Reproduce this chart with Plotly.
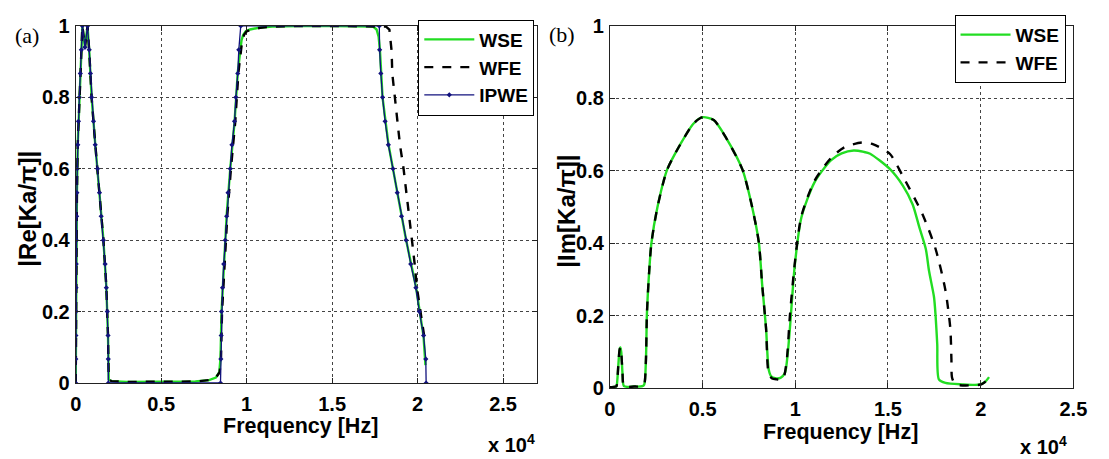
import plotly.graph_objects as go

W, H = 1109, 459

# ---------------- data: panel (a)  |Re[Ka/pi]| ----------------
wse_re_f = [0, 10, 20, 40, 70, 120, 210, 330, 390, 540, 690, 790, 930, 1140, 1390, 1620, 1790, 1890,
            1930, 2100, 3000, 5000, 7000, 7800, 8200, 8400, 8470, 8530, 8660, 8830, 9040, 9290, 9480, 9600,
            9700, 9800, 9950, 10200, 10700, 11500, 13000, 15000, 17000, 17400, 17600, 17720, 17800,
            17950, 18290, 18810, 19330, 19900, 20350, 20460]
wse_re_y = [0, .13, .27, .4, .53, .67, .8, .93, 1.0, .94, 1.0, .93, .8, .67, .53, .4, .27, .13,
            .01, .005, .003, .003, .004, .008, .015, .03, .07, .2, .33, .47, .6, .73, .87, .93,
            .96, .975, .985, .99, .995, .998, 1.0, 1.0, 1.0, .998, .99, .97, .93,
            .8, .67, .53, .4, .27, .13, .05]

wfe_re_f = [0, 10, 20, 40, 70, 120, 210, 330, 390, 540, 690, 790, 930, 1140, 1390, 1620, 1790, 1890,
            1930, 2100, 3000, 5000, 7000, 7800, 8200, 8420, 8500, 8560, 8700, 8870, 9080, 9330, 9520, 9640,
            9740, 9850, 10000, 10300, 10800, 11500, 13000, 15000, 17000, 17800, 18150, 18350,
            18430, 18480, 18520, 18660, 18810, 18970, 19180, 19330, 19480, 19670, 19830, 19960, 20170, 20380]
wfe_re_y = [0, .13, .27, .4, .53, .67, .8, .93, 1.0, .94, 1.0, .93, .8, .67, .53, .4, .27, .13,
            .01, .005, .003, .003, .004, .008, .015, .03, .07, .2, .33, .47, .6, .73, .87, .93,
            .96, .975, .985, .99, .995, .998, 1.0, 1.0, 1.0, 1.0, .998, .99,
            .96, .93, .867, .8, .733, .667, .6, .533, .467, .4, .333, .267, .2, .133]

ipwe_f = [0, 5, 10, 15, 20, 30, 40, 55, 70, 90, 120, 160, 210, 270, 330, 390,
          540, 690,
          790, 860, 930, 1040, 1140, 1280, 1390, 1490, 1620, 1720, 1790, 1850, 1890, 1905, 1910,
          8470, 8490, 8510, 8530, 8590, 8660, 8750, 8830, 8910, 9040, 9140, 9290, 9370, 9480, 9540, 9655,
          17760, 17780, 17850, 17950, 18100, 18290, 18560, 18810, 19060, 19330, 19600, 19900, 20100,
          20350, 20480, 20500]
ipwe_y = [0, .067, .133, .2, .267, .333, .4, .467, .533, .6, .667, .733, .8, .867, .933, 1.0,
          .94, 1.0,
          .933, .867, .8, .733, .667, .6, .533, .467, .4, .333, .267, .2, .133, .067, 0,
          0, .067, .133, .2, .267, .333, .4, .467, .533, .6, .667, .733, .8, .867, .933, 1.0,
          1.0, .933, .867, .8, .733, .667, .6, .533, .467, .4, .333, .267, .2,
          .133, .067, 0]

# ---------------- data: panel (b)  |Im[Ka/pi]| ----------------
wse_im_f = [0, 300, 354, 450, 520, 565, 610, 680, 760, 1300, 1750, 1854, 1943, 1996, 2119, 2240, 2558,
            3088, 3797, 4502, 5000, 5600, 6266, 7150, 7680, 8033, 8210, 8422, 8565, 8700, 8917, 9200,
            9444, 9600, 9709, 9974, 10328, 11034, 11917, 12500, 13151, 13700, 14036, 15095, 15800,
            16330, 16684, 17040, 17214, 17479, 17567, 17656, 17744, 18097, 19000, 19862, 20200, 20450]
wse_im_y = [.002, .004, .005, .06, .105, .112, .1, .04, .005, .004, .005, .01, .077, .204, .323, .401, .498,
            .603, .673, .73, .748, .74, .691, .603, .498, .402, .287, .165, .051, .032, .027, .028,
            .042, .1, .165, .34, .471, .568, .629, .648, .656, .652, .647, .605, .559,
            .507, .445, .384, .323, .252, .2, .121, .024, .014, .01, .009, .015, .03]

wfe_im_f = [0, 300, 354, 450, 520, 565, 610, 680, 760, 1300, 1750, 1854, 1943, 1996, 2119, 2240, 2558,
            3088, 3797, 4502, 5000, 5600, 6266, 7150, 7680, 8033, 8210, 8422, 8565, 8750, 9000, 9326,
            9532, 9709, 9974, 10328, 11034, 11917, 12620, 13596, 14212, 15095, 15800, 16860, 17567,
            18097, 18361, 18420, 18450, 18600, 18805, 20040, 20300]
wfe_im_y = [.002, .004, .005, .06, .105, .112, .1, .04, .005, .004, .005, .01, .077, .204, .323, .401, .498,
            .603, .673, .73, .748, .74, .691, .603, .498, .402, .287, .165, .04, .026, .024, .024,
            .074, .2, .345, .475, .572, .635, .664, .678, .673, .647, .585, .48, .384,
            .27, .165, .08, .03, .012, .008, .01, .02]

x_tickvals_a = [0, 5000, 10000, 15000, 20000, 25000]
x_ticktext_a = ["0", "0.5", "1", "1.5", "2", "2.5"]
y_tickvals = [0, 0.2, 0.4, 0.6, 0.8, 1.0]
y_ticktext = ["0", "0.2", "0.4", "0.6", "0.8", "1"]

GREEN = "#22dd22"
NAVY = "#12127e"
SANS = "Liberation Sans"

fig = go.Figure()
fig.add_trace(go.Scatter(x=wse_re_f, y=wse_re_y, mode="lines", name="WSE",
                         line=dict(color=GREEN, width=2.4), xaxis="x", yaxis="y", legend="legend"))
fig.add_trace(go.Scatter(x=wfe_re_f, y=wfe_re_y, mode="lines", name="WFE",
                         line=dict(color="black", width=2.4, dash="dash"), xaxis="x", yaxis="y", legend="legend"))
fig.add_trace(go.Scatter(x=ipwe_f, y=ipwe_y, mode="lines+markers", name="IPWE",
                         line=dict(color=NAVY, width=1.3), marker=dict(color=NAVY, size=4, symbol="diamond"),
                         xaxis="x", yaxis="y", legend="legend"))
fig.add_trace(go.Scatter(x=wse_im_f, y=wse_im_y, mode="lines", name="WSE",
                         line=dict(color=GREEN, width=2.4, shape="spline", smoothing=0.7),
                         xaxis="x2", yaxis="y2", legend="legend2"))
fig.add_trace(go.Scatter(x=wfe_im_f, y=wfe_im_y, mode="lines", name="WFE",
                         line=dict(color="black", width=2.4, dash="dash", shape="spline", smoothing=0.7),
                         xaxis="x2", yaxis="y2", legend="legend2"))

tickfont = dict(family=SANS, size=20, color="black", weight="bold")
common = dict(showline=True, mirror="ticks", linecolor="#222", linewidth=1, ticks="inside", ticklen=5,
              tickcolor="#222", showgrid=True, griddash="dot", gridcolor="#444", gridwidth=1,
              zeroline=False, tickfont=tickfont)

leg_font = dict(family=SANS, size=19, color="black", weight="bold")
fig.update_layout(
    width=W, height=H, margin=dict(l=0, r=0, t=0, b=0),
    paper_bgcolor="white", plot_bgcolor="white",
    xaxis=dict(domain=[71 / W, 541 / W], range=[0, 27000], tickvals=x_tickvals_a, ticktext=x_ticktext_a,
               anchor="y", ticklabelstandoff=3, **common),
    yaxis=dict(domain=[1 - 390.7 / H, 1 - 15.7 / H], range=[0, 1], tickvals=y_tickvals, ticktext=y_ticktext,
               anchor="x", ticklabelstandoff=1, **common),
    xaxis2=dict(domain=[615 / W, 1087 / W], range=[0, 25000], tickvals=x_tickvals_a, ticktext=x_ticktext_a,
                anchor="y2", ticklabelstandoff=3, **common),
    yaxis2=dict(domain=[1 - 396 / H, 1 - 15.7 / H], range=[0, 1], tickvals=y_tickvals, ticktext=y_ticktext,
                anchor="x2", ticklabelstandoff=1, **common),
    legend=dict(x=538 / W, y=1 - 9 / H, xanchor="right", yanchor="top", bgcolor="white",
                bordercolor="black", borderwidth=1, font=leg_font, tracegroupgap=0, itemwidth=50),
    legend2=dict(x=1079 / W, y=1 - 4 / H, xanchor="right", yanchor="top", bgcolor="white",
                 bordercolor="black", borderwidth=1, font=leg_font, tracegroupgap=0, itemwidth=50),
)

ann_font = dict(family=SANS, size=21.5, color="black", weight="bold")
ylab_font = dict(family=SANS, size=24, color="black", weight="bold")
x10_font = dict(family=SANS, size=20, color="black", weight="bold")
annotations = [
    dict(text="Frequency [Hz]", x=300 / W, y=1 - 436 / H, font=ann_font),
    dict(text="Frequency [Hz]", x=850 / W, y=1 - 442 / H, font=ann_font),
    dict(text="|Re[Ka/π]|", x=21 / W, y=1 - 208 / H, textangle=-90, font=ylab_font),
    dict(text="|Im[Ka/π]|", x=571 / W, y=1 - 210 / H, textangle=-90, font=ylab_font),
    dict(text="x 10<sup>4</sup>", x=515 / W, y=1 - 454 / H, font=x10_font),
    dict(text="x 10<sup>4</sup>", x=1057 / W, y=1 - 456 / H, font=x10_font),
    dict(text="(a)", x=21 / W, y=1 - 26 / H, font=dict(family="Liberation Serif", size=22, color="black")),
    dict(text="(b)", x=566 / W, y=1 - 25 / H, font=dict(family="Liberation Serif", size=22, color="black")),
]
for a in annotations:
    a.update(xref="paper", yref="paper", showarrow=False, xanchor="center", yanchor="middle")
fig.update_layout(annotations=annotations)

fig.write_html("out.html")
